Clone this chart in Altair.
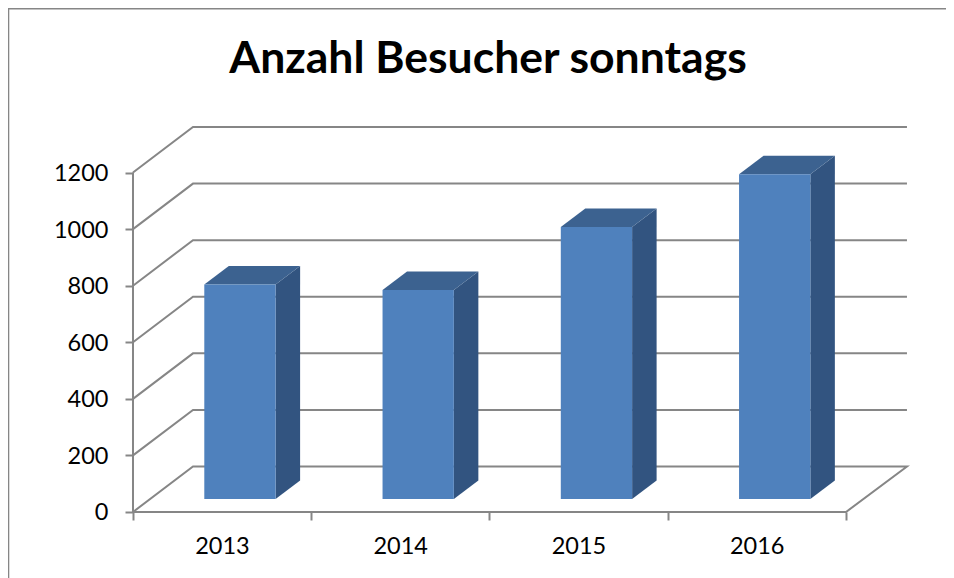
import altair as alt
import pandas as pd

TITLE = "Anzahl Besucher sonntags"
years = ["2013", "2014", "2015", "2016"]
visitors = [758, 739, 961, 1148]
y_ticks = [0, 200, 400, 600, 800, 1000, 1200]
x_ticks = [0, 1, 2, 3, 4]

# Pseudo-3D geometry, in data units
BAR_LEFT, BAR_WIDTH = 0.4, 0.4
BAR_DX, BAR_DY, BAR_BASE = 0.1375, 65.4, 46
WALL_DX, WALL_DY = 0.3366, 160.8
WALL_RIGHT = 4.342
X_DOM = [-0.690, 4.561]
Y_DOM = [-219.2, 1774.5]
FRAME_X0, FRAME_X1, FRAME_Y0, FRAME_Y1 = -0.6996, 4.561, -233.3, 1779.8

GREY = "#868686"
FRONT, SIDE, TOP = "#4F81BD", "#325480", "#3C6290"
FONT = "Lato"

xs = alt.Scale(domain=X_DOM, nice=False, zero=False)
ys = alt.Scale(domain=Y_DOM, nice=False, zero=False)
year_labels = "[" + ",".join(f"'{y}'" for y in years) + ",''][datum.value]"
x_axis = alt.Axis(
    values=x_ticks, orient="bottom", offset=-62, domain=False, grid=False,
    tickColor=GREY, tickWidth=2, tickSize=8, labelExpr=year_labels, labelOffset=89,
    labelFont=FONT, labelFontSize=23.5, labelColor="black", labelPadding=14,
    labelOverlap=False, labelFlush=False, labelBound=False)
y_axis = alt.Axis(
    values=y_ticks, orient="left", offset=-123, domain=False, grid=False, format="d",
    tickColor=GREY, tickWidth=2, tickSize=8, labelFont=FONT, labelFontSize=23.5, labelOffset=1,
    labelColor="black", labelPadding=17, labelOverlap=False, labelFlush=False, labelBound=False)
X = alt.X("x:Q", scale=xs, title=None, axis=x_axis)
Y = alt.Y("y:Q", scale=ys, title=None, axis=y_axis)

# Frame
frame = pd.DataFrame({"x": [FRAME_X0, FRAME_X0, FRAME_X1], "y": [FRAME_Y0, FRAME_Y1, FRAME_Y1], "o": [0, 1, 2]})
frame_l = alt.Chart(frame).mark_line(color=GREY, strokeWidth=2).encode(X, Y, order="o:Q")

# Walls and floor
rows = []
for v in y_ticks[1:]:
    for o, (x, y) in enumerate([(0, v), (WALL_DX, v + WALL_DY), (WALL_RIGHT, v + WALL_DY)]):
        rows.append({"x": x, "y": y, "o": o, "s": str(v)})
for o, (x, y) in enumerate([(0, 0), (WALL_DX, WALL_DY), (WALL_RIGHT, WALL_DY), (x_ticks[-1], 0), (0, 0)]):
    rows.append({"x": x, "y": y, "o": o, "s": "0"})
grid = alt.Chart(pd.DataFrame(rows)).mark_line(color=GREY, strokeWidth=2).encode(X, Y, order="o:Q", detail="s:N")

# Vertical axis line
axis_y_line = alt.Chart(pd.DataFrame({"x": [0, 0], "y": [y_ticks[0], y_ticks[-1]], "o": [0, 1]})).mark_line(
    color=GREY, strokeWidth=2).encode(X, Y, order="o:Q")

# Bars
front, side, top = [], [], []
for i, (yr, v) in enumerate(zip(years, visitors)):
    l = i + BAR_LEFT
    r = l + BAR_WIDTH
    b = BAR_BASE
    t = BAR_BASE + v
    front.append({"x": l, "x2": r, "y": b, "y2": t, "year": yr})
    side += [{"x": r, "y": b, "y2": t, "year": yr},
             {"x": r + BAR_DX, "y": b + BAR_DY, "y2": t + BAR_DY, "year": yr}]
    top += [{"x": l, "y": t, "y2": t, "year": yr},
            {"x": l + BAR_DX, "y": t, "y2": t + BAR_DY, "year": yr},
            {"x": r, "y": t, "y2": t + BAR_DY, "year": yr},
            {"x": r + BAR_DX, "y": t + BAR_DY, "y2": t + BAR_DY, "year": yr}]

side_l = alt.Chart(pd.DataFrame(side)).mark_area(color=SIDE, interpolate="linear").encode(X, Y, y2="y2:Q", detail="year:N")
top_l = alt.Chart(pd.DataFrame(top)).mark_area(color=TOP, interpolate="linear").encode(X, Y, y2="y2:Q", detail="year:N")
front_l = alt.Chart(pd.DataFrame(front)).mark_rect(color=FRONT).encode(X, x2="x2:Q", y=Y, y2="y2:Q")

chart = alt.layer(frame_l, grid, axis_y_line, side_l, top_l, front_l).properties(
    width=936, height=564,
    padding={"left": 2, "top": 2, "right": 0, "bottom": 4},
    autosize=alt.AutoSizeParams(type="none"),
    title=alt.TitleParams(TITLE, font=FONT, fontSize=44.5, fontWeight="bold", color="black",
                          anchor="middle", offset=-78, dx=10),
).configure_view(stroke=None)

chart.save("out.html", embed_options={"renderer": "svg", "actions": False})
